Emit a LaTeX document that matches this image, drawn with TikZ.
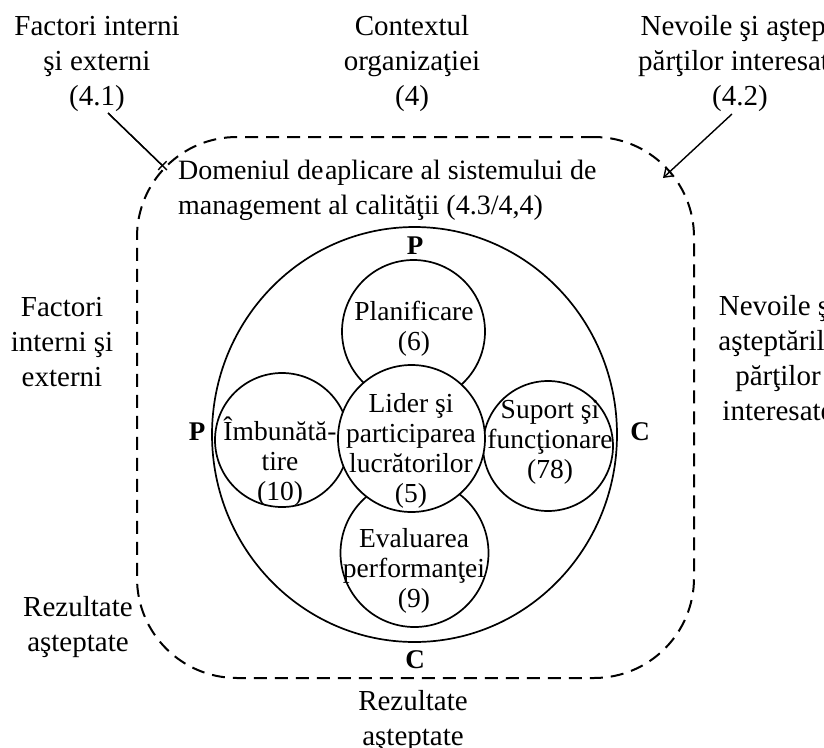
\documentclass[tikz,border=0pt]{standalone}
\usepackage{fontspec}
\setmainfont{Liberation Serif}
\usetikzlibrary{arrows.meta,shapes.geometric,calc}
\begin{document}
\begin{tikzpicture}[x=1pt,y=-1pt,
  lbl/.style={align=center, font=\fontsize{29}{35}\selectfont, inner sep=0pt},
  domlbl/.style={align=left, font=\fontsize{28}{35}\selectfont, inner sep=0pt},
  inlbl/.style={align=center, font=\fontsize{27.5}{30}\selectfont, inner sep=0pt},
  pc/.style={font=\fontsize{27}{30}\selectfont\bfseries, inner sep=0pt},
  circ/.style={draw, circle, line width=1.7pt, fill=white, inner sep=0pt},
  dsh/.style={draw, line width=2pt, dash pattern=on 13pt off 8pt},
  conn/.style={line width=1.4pt},
]
\useasboundingbox (0,0) rectangle (824,747);
\clip (0,0) rectangle (824,747);

% dashed scope boundary
\node[dsh, rectangle, rounded corners=100pt, minimum width=557pt, minimum height=541pt, inner sep=0pt] (scopebox) at (415.5,407.5) {};

% outer ellipse
\node[draw, ellipse, line width=1.7pt, minimum width=405pt, minimum height=415pt, inner sep=0pt] (outer) at (414.5,434.5) {};

% circles
\node[circ, minimum size=143pt] (ctop) at (413.5,331.5) {};
\node[circ, minimum size=148pt] (cbot) at (414.5,553) {};
\node[circ, minimum size=134pt] (cleft) at (282,440) {};
\node[circ, minimum size=130pt] (cright) at (548,446) {};
\node[circ, minimum size=147pt] (ccen) at (411.5,438.5) {};

% circle texts
\node[inlbl] (ttop) at (414,329) {Planificare\\(6)};
\node[inlbl] (tcen) at (411,451) {Lider şi\\participarea\\lucrătorilor\\(5)};
\node[inlbl] (tleft) at (280,462) {Îmbunătă-\\tire\\(10)};
\node[inlbl] (tright) at (550,442) {Suport şi\\funcţionare\\(78)};
\node[inlbl] (tbot) at (414,571) {Evaluarea\\performanţei\\(9)};

% P / C letters
\node[pc] (ptop) at (415,246) {P};
\node[pc] (pleft) at (197,432) {P};
\node[pc] (cr) at (640,432) {C};
\node[pc] (cb) at (415,660) {C};

% scope text
\node[domlbl, anchor=west] (dom) at (178,190) {Domeniul de\hspace{0.05em}aplicare al sistemului de\\management al calităţii (4.3/4,4)};

% outer labels
\node[lbl] (fie) at (97,64) {Factori interni\\şi externi\\(4.1)};
\node[lbl] (ctx) at (412,64) {Contextul\\organizaţiei\\(4)};
\node[lbl] (nev) at (740,64) {\hspace*{46pt}Nevoile şi aşteptările\\părţilor interesate\\(4.2)};
\node[lbl] (fiel) at (62,342) {Factori\\interni şi\\externi};
\node[lbl] (nevr) at (778,358) {Nevoile şi\\aşteptările\\părţilor\\interesate};
\node[lbl] (rezl) at (78,627) {Rezultate\\aşteptate};
\node[lbl] (rezb) at (413,721) {Rezultate\\aşteptate};

% connectors
\coordinate (a1s) at (108,113);
\coordinate (a1e) at (167,170);
\draw[conn] (a1s) -- (a1e);
\draw[conn, -{Bar[width=12pt]}] (a1s) -- ($(a1s)!0.93!(a1e)$);

\coordinate (a2s) at (732,114);
\coordinate (a2e) at (663,178);
\draw[conn, -{Straight Barb[length=8pt,width=11pt]}] (a2s) -- (a2e);
\end{tikzpicture}
\end{document}
